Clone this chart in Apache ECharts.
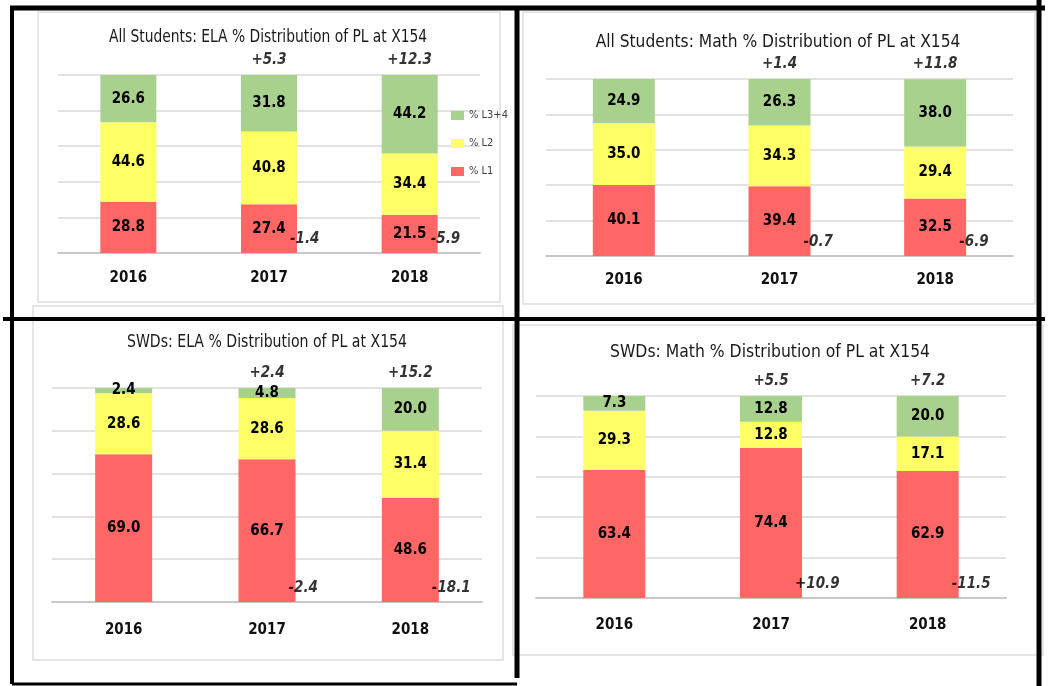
<!DOCTYPE html>
<html>
<head>
<meta charset="utf-8">
<script src="https://cdn.jsdelivr.net/npm/echarts@6/dist/echarts.min.js"></script>
<style>
html,body{margin:0;padding:0;background:#fff;}
#c{width:1052px;height:686px;}
</style>
</head>
<body>
<div id="c"></div>
<script>
// ---- data ----
const years = ['2016', '2017', '2018'];
const legendNames = ['% L3+4', '% L2', '% L1'];
const titles = [
  'All Students: ELA % Distribution of PL at X154',
  'All Students: Math % Distribution of PL at X154',
  'SWDs: ELA % Distribution of PL at X154',
  'SWDs: Math % Distribution of PL at X154'
];
const elaAllL1 = [28.8, 27.4, 21.5];
const elaAllL2 = [44.6, 40.8, 34.4];
const elaAllL34 = [26.6, 31.8, 44.2];
const mathAllL1 = [40.1, 39.4, 32.5];
const mathAllL2 = [35.0, 34.3, 29.4];
const mathAllL34 = [24.9, 26.3, 38.0];
const elaSwdL1 = [69.0, 66.7, 48.6];
const elaSwdL2 = [28.6, 28.6, 31.4];
const elaSwdL34 = [2.4, 4.8, 20.0];
const mathSwdL1 = [63.4, 74.4, 62.9];
const mathSwdL2 = [29.3, 12.8, 17.1];
const mathSwdL34 = [7.3, 12.8, 20.0];
const elaAllTop = ['', '+5.3', '+12.3'];
const elaAllBottom = ['', '-1.4', '-5.9'];
const mathAllTop = ['', '+1.4', '+11.8'];
const mathAllBottom = ['', '-0.7', '-6.9'];
const elaSwdTop = ['', '+2.4', '+15.2'];
const elaSwdBottom = ['', '-2.4', '-18.1'];
const mathSwdTop = ['', '+5.5', '+7.2'];
const mathSwdBottom = ['', '+10.9', '-11.5'];

// ---- layout / style ----
const FONT = '"DejaVu Sans Condensed", "Liberation Sans", sans-serif';
const COLORS = { l1: '#ff6666', l2: '#ffff66', l34: '#a9d18e' };
const panels = [
  { l1: elaAllL1, l2: elaAllL2, l34: elaAllL34, top: elaAllTop, bot: elaAllBottom,
    grid: { left: 58, top: 75, width: 422, height: 178 }, bw: 56, margin: 18,
    title: { x: 268, y: 37, size: 18, sx: 0.855 } },
  { l1: mathAllL1, l2: mathAllL2, l34: mathAllL34, top: mathAllTop, bot: mathAllBottom,
    grid: { left: 546, top: 79, width: 467, height: 177 }, bw: 62, margin: 17,
    title: { x: 778, y: 42, size: 18, sx: 0.955 } },
  { l1: elaSwdL1, l2: elaSwdL2, l34: elaSwdL34, top: elaSwdTop, bot: elaSwdBottom,
    grid: { left: 52, top: 388, width: 430, height: 214 }, bw: 57, margin: 21,
    title: { x: 267, y: 342, size: 18, sx: 0.87 } },
  { l1: mathSwdL1, l2: mathSwdL2, l34: mathSwdL34, top: mathSwdTop, bot: mathSwdBottom,
    grid: { left: 536, top: 396, width: 470, height: 202 }, bw: 62, margin: 20,
    title: { x: 770, y: 352, size: 18, sx: 0.965 } }
];

const grids = [], xAxes = [], yAxes = [], series = [], graphics = [];
panels.forEach((p, i) => {
  grids.push(Object.assign({}, p.grid));
  xAxes.push({
    type: 'category', gridIndex: i, data: years,
    axisLine: { lineStyle: { color: '#c8c8c8', width: 2 } },
    axisTick: { show: false },
    axisLabel: { margin: p.margin, fontFamily: FONT, fontSize: 15, fontWeight: 'bold', color: '#111' }
  });
  yAxes.push({
    type: 'value', gridIndex: i, min: 0, max: 100, interval: 20,
    axisLabel: { show: false }, axisLine: { show: false }, axisTick: { show: false },
    splitLine: { lineStyle: { color: '#d9d9d9', width: 1.5 } }
  });
  const seg = (name, data, color) => ({
    name, type: 'bar', stack: 's' + i, xAxisIndex: i, yAxisIndex: i,
    data, barWidth: p.bw, itemStyle: { color },
    label: { show: true, position: 'inside', fontFamily: FONT, fontSize: 15, fontWeight: 'bold',
      color: '#000', formatter: (d) => d.value.toFixed(1) },
    silent: true
  });
  series.push(seg('% L1', p.l1, COLORS.l1));
  series.push(seg('% L2', p.l2, COLORS.l2));
  series.push(seg('% L3+4', p.l34, COLORS.l34));
  const annStyle = { fontFamily: FONT, fontSize: 15, fontWeight: 'bold', fontStyle: 'italic', color: '#000' };
  series.push({
    type: 'scatter', xAxisIndex: i, yAxisIndex: i, symbolSize: 1, z: 10, silent: true,
    itemStyle: { color: 'rgba(0,0,0,0)' },
    data: p.top.map((t, k) => t ? [k, 100, t] : null).filter(Boolean),
    label: Object.assign({ show: true, position: 'inside', align: 'center', verticalAlign: 'middle',
      offset: [0, -15], formatter: (d) => d.value[2] }, annStyle)
  });
  series.push({
    type: 'scatter', xAxisIndex: i, yAxisIndex: i, symbolSize: 1, z: 10, silent: true,
    itemStyle: { color: 'rgba(0,0,0,0)' },
    data: p.bot.map((t, k) => t ? [k, 0, t] : null).filter(Boolean),
    label: Object.assign({ show: true, position: 'inside', align: 'left', verticalAlign: 'middle',
      offset: [p.bw / 2 - 7, -14], formatter: (d) => d.value[2] }, annStyle)
  });
  graphics.push({
    type: 'text', x: p.title.x, y: p.title.y, z: 5, scaleX: p.title.sx,
    style: { text: titles[i], fontFamily: FONT, fontSize: p.title.size, fontWeight: 'normal',
      fill: '#1a1a1a', textAlign: 'center', textVerticalAlign: 'middle' }
  });
});

// light chart-area frames
const frames = [
  [38, 12, 462, 290], [523, 12, 512, 292], [33, 306, 470, 354], [513, 325, 530, 330]
];
frames.forEach(f => graphics.unshift({
  type: 'rect', shape: { x: f[0], y: f[1], width: f[2], height: f[3] }, z: -10,
  style: { fill: 'none', stroke: '#dedede', lineWidth: 1.5 }
}));
// black separator lines
const lines = [
  [10, 8, 1045, 8, 5], [12, 8, 12, 684, 4], [3, 319, 1045, 319, 4],
  [517, 8, 517, 678, 5], [1039, 0, 1039, 686, 5], [12, 684, 517, 684, 3]
];
lines.forEach(l => graphics.push({
  type: 'line', z: 100, shape: { x1: l[0], y1: l[1], x2: l[2], y2: l[3] },
  style: { stroke: '#000', lineWidth: l[4] }
}));

const chart = echarts.init(document.getElementById('c'), null, { renderer: 'canvas' });
chart.setOption({
  animation: false,
  backgroundColor: '#fff',
  grid: grids, xAxis: xAxes, yAxis: yAxes, series,
  legend: {
    data: legendNames, orient: 'vertical', left: 446, top: 105,
    itemWidth: 13, itemHeight: 9, itemGap: 17, itemTextGap: 3, icon: 'rect',
    textStyle: { fontFamily: FONT, fontSize: 11, color: '#404040' },
    selectedMode: false
  },
  graphic: graphics
});
</script>
</body>
</html>
